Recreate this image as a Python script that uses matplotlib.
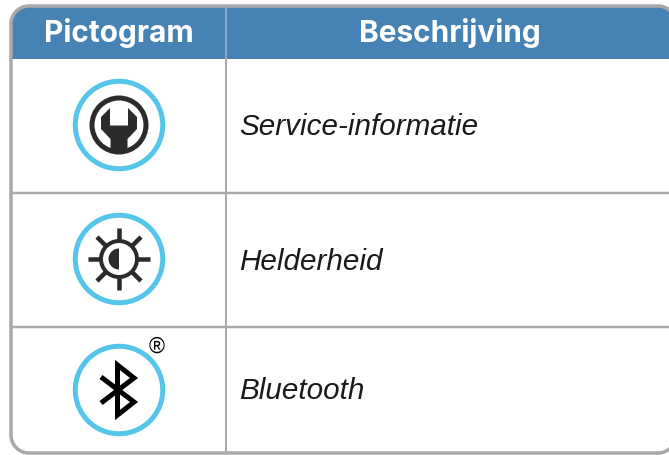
import matplotlib
matplotlib.use("Agg")
import matplotlib.pyplot as plt
import numpy as np
from matplotlib.patches import Circle, Polygon, Wedge, Rectangle

headers = ["Pictogram", "Beschrijving"]
descriptions = ["Service-informatie", "Helderheid", "Bluetooth"]
row_centers = [126, 260, 391]
text_y = [127.5, 262, 391.5]
row_lines = [193.5, 327.5]

blue = "#4682b4"
grey = "#a9a9a9"
ring = "#55c5ea"
dark = "#2b2b2b"
px = 0.72  # pixels to points at dpi 100


def rounded_rect(x0, y0, x1, y1, r):
    # outline as plain points, agg bends bezier corners once they leave the canvas
    pts = []
    corners = [(x1 - r, y0 + r, -90), (x1 - r, y1 - r, 0), (x0 + r, y1 - r, 90), (x0 + r, y0 + r, 180)]
    for cx, cy, start in corners:
        t = np.radians(np.linspace(start, start + 90, 30))
        pts.extend(zip(cx + r * np.cos(t), cy + r * np.sin(t)))
    return pts


fig = plt.figure(figsize=(6.69, 4.56), dpi=100)
ax = fig.add_axes([0, 0, 1, 1])
ax.set_xlim(0, 669)
ax.set_ylim(456, 0)
ax.axis("off")

# table frame, the right side runs off the picture
outline = rounded_rect(11, 7, 676, 454, 18)
clip = Polygon(outline, fc="white", ec="none")
ax.add_patch(clip)
head = Rectangle((11, 7), 665, 52.5, fc=blue, ec="none", zorder=1)
ax.add_patch(head)
head.set_clip_path(clip)

ax.plot([226, 226], [8, 59], color="#9fb6c9", lw=1.5 * px, zorder=2)
ax.plot([226, 226], [59, 453], color=grey, lw=2 * px, zorder=2)
for y in row_lines:
    ax.plot([12, 669], [y, y], color=grey, lw=2.5 * px, zorder=2)

ax.add_patch(Polygon(outline, fc="none", ec=grey, lw=3.5 * px, zorder=3))

ax.text(119, 33, headers[0], color="white", ha="center", va="center", fontsize=21.5,
        fontweight="bold", family="Inter", zorder=4)
ax.text(450, 33, headers[1], color="white", ha="center", va="center", fontsize=21.5,
        fontweight="bold", family="Inter", zorder=4)

for name, y in zip(descriptions, text_y):
    ax.text(239, y, name, color="#1a1a1a", ha="left", va="center", fontsize=21.3,
            style="italic", family="Liberation Sans", zorder=4)

# blue rings
for y in row_centers:
    ax.add_patch(Circle((119, y), 43.75, fc="white", ec=ring, lw=5 * px, zorder=4))

# wrench icon
cx, cy = 119, row_centers[0]
ax.add_patch(Circle((cx, cy), 27, fc="none", ec=dark, lw=5 * px, zorder=5))
wrench = [(-9, -17), (-9, 0.5), (9, 0.5), (9, -17), (18, -8), (18, 4), (8.5, 14), (8.5, 28),
          (-8.5, 28), (-8.5, 14), (-18, 4), (-18, -8)]
ax.add_patch(Polygon([(cx + a, cy + b) for a, b in wrench], fc=dark, ec="none", zorder=5))

# brightness icon
cx, cy = 119, row_centers[1]
ax.add_patch(Circle((cx, cy), 18, fc="none", ec=dark, lw=4 * px, zorder=5))
ax.add_patch(Wedge((cx, cy), 10.5, 90, 270, fc=dark, ec="none", zorder=5))
ax.plot([cx, cx], [cy - 31, cy - 19], color=dark, lw=4.5 * px, zorder=5, solid_capstyle="butt")
ax.plot([cx, cx], [cy + 19, cy + 31], color=dark, lw=4.5 * px, zorder=5, solid_capstyle="butt")
ax.plot([cx - 31, cx - 19], [cy, cy], color=dark, lw=4.5 * px, zorder=5, solid_capstyle="butt")
ax.plot([cx + 19, cx + 31], [cy, cy], color=dark, lw=4.5 * px, zorder=5, solid_capstyle="butt")
for a, b in [(-1, -1), (1, -1), (-1, 1), (1, 1)]:
    ax.plot([cx + a * 13, cx + a * 22], [cy + b * 13, cy + b * 22], color=dark,
            lw=4.5 * px, zorder=5, solid_capstyle="butt")

# bluetooth icon
cx, cy = 119, row_centers[2]
bt = [(-18, -13), (15, 12), (-1.5, 25), (-1.5, -25), (15, -12), (-18, 13)]
ax.plot([cx + a for a, b in bt], [cy + b for a, b in bt], color="black", lw=5 * px,
        zorder=5, solid_joinstyle="miter", solid_capstyle="butt")
ax.text(157, 347, "®", color="black", ha="center", va="center", fontsize=15.5,
        family="Liberation Sans", zorder=5)

fig.savefig("out.png", dpi=100)
plt.close()
